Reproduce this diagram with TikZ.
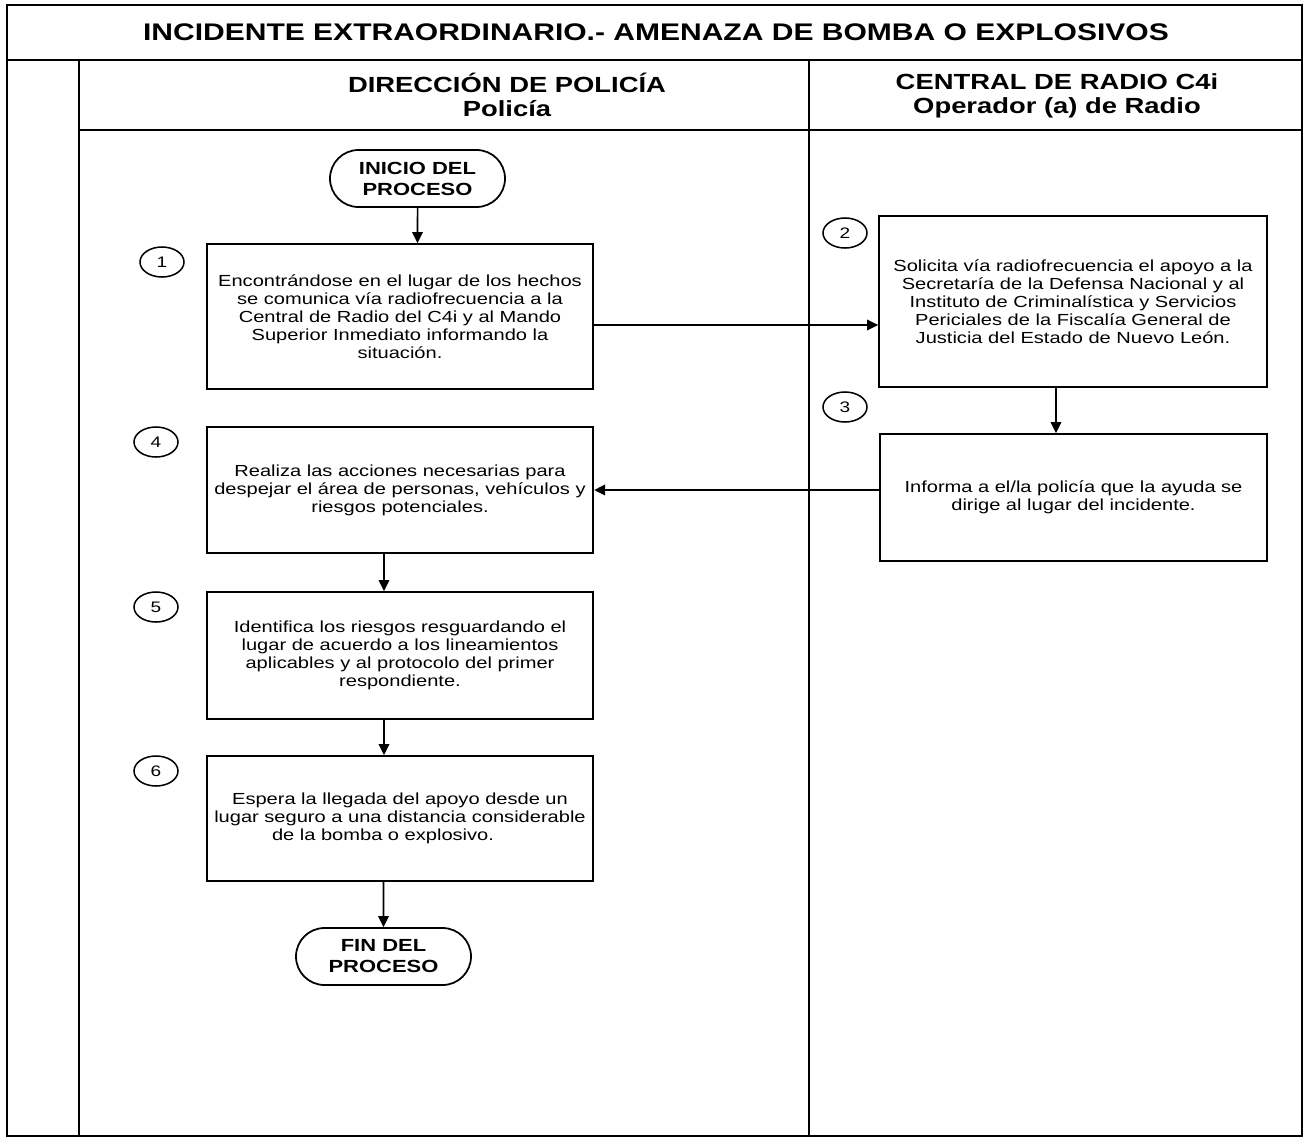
\documentclass[tikz,border=0pt]{standalone}
\usepackage{fontspec}
\setmainfont{Liberation Sans}[FakeStretch=1.25]
\usepackage{tikz}
\usetikzlibrary{shapes.geometric, shapes.misc, arrows.meta}

\tikzset{
	marco/.style={line width=1.6pt},
	paso/.style={draw, line width=1.5pt, align=center, inner sep=0pt, minimum width=11.6cm, font=\fontsize{13.7}{15.3}\selectfont},
	terminal/.style={draw, rounded rectangle, line width=1.5pt, align=center, minimum width=5.25cm, minimum height=1.71cm, inner sep=0pt, font=\fontsize{15}{17.9}\selectfont\bfseries},
	numero/.style={draw, ellipse, line width=1.3pt, minimum width=1.32cm, minimum height=0.9cm, inner sep=0pt, font=\fontsize{13}{15}\selectfont},
	encabezado/.style={align=center, font=\fontsize{18.7}{20.4}\selectfont\bfseries},
	flecha/.style={line width=1.3pt, -{Triangle[length=0.33cm, width=0.32cm]}}
}

\begin{document}
\begin{tikzpicture}[x=0.03cm, y=-0.03cm]
	\useasboundingbox (0, 0) rectangle (1304, 1138);
	% Frame and lanes:
	\draw[marco] (7, 5) rectangle (1302, 1136);
	\draw[marco] (7, 60) -- (1302, 60);
	\draw[marco] (79, 60) -- (79, 1136);
	\draw[marco] (809, 60) -- (809, 1136);
	\draw[marco] (79, 130) -- (1302, 130);
	\node[font=\fontsize{20.5}{24}\selectfont\bfseries] (titulo) at (656, 32){INCIDENTE EXTRAORDINARIO.- AMENAZA DE BOMBA O EXPLOSIVOS};
	\node[encabezado] (carril1) at (507, 95){DIRECCIÓN DE POLICÍA\\Policía};
	\node[encabezado] (carril2) at (1057, 96){CENTRAL DE RADIO C4i\\Operador (a) de Radio};
	% Steps:
	\node[terminal] (inicio) at (417.5, 178.5){INICIO DEL\\PROCESO};
	\node[paso, minimum height=4.35cm] (paso1) at (400, 316.5){Encontrándose en el lugar de los hechos\\se comunica vía radiofrecuencia a la\\Central de Radio del C4i y al Mando\\Superior Inmediato informando la\\situación.};
	\node[paso, minimum width=11.64cm, minimum height=5.13cm] (paso2) at (1073, 301.5){Solicita vía radiofrecuencia el apoyo a la\\Secretaría de la Defensa Nacional y al\\Instituto de Criminalística y Servicios\\Periciales de la Fiscalía General de\\Justicia del Estado de Nuevo León.};
	\node[paso, minimum height=3.81cm] (paso3) at (1073.5, 497.5){Informa a el/la policía que la ayuda se\\dirige al lugar del incidente.};
	\node[paso, minimum height=3.78cm] (paso4) at (400, 490){Realiza las acciones necesarias para\\despejar el área de personas, vehículos y\\riesgos potenciales.};
	\node[paso, minimum height=3.81cm] (paso5) at (400, 655.5){Identifica los riesgos resguardando el\\lugar de acuerdo a los lineamientos\\aplicables y al protocolo del primer\\respondiente.};
	\node[paso, minimum height=3.75cm] (paso6) at (400, 818.5){Espera la llegada del apoyo desde un\\lugar seguro a una distancia considerable\\de la bomba o explosivo.\hspace*{1.02cm}};
	\node[terminal] (fin) at (383.5, 956.5){FIN DEL\\PROCESO};
	\node[numero] (n1) at (162, 262){1};
	\node[numero] (n2) at (845, 233){2};
	\node[numero] (n3) at (845, 407){3};
	\node[numero] (n4) at (156, 442){4};
	\node[numero] (n5) at (156, 607){5};
	\node[numero] (n6) at (156, 771){6};
	% Connectors:
	\coordinate (s1) at ([yshift=-0.255cm]paso1.east);
	\coordinate (s2) at ([xshift=-0.51cm]paso2.south);
	\coordinate (s4) at ([xshift=-0.48cm]paso4.south);
	\coordinate (s5) at ([xshift=-0.48cm]paso5.south);
	\draw[flecha] (inicio) -- (inicio |- paso1.north);
	\draw[flecha] (s1) -- (s1 -| paso2.west);
	\draw[flecha] (s2) -- (s2 |- paso3.north);
	\draw[flecha] (paso4.east -| paso3.west) -- (paso4.east);
	\draw[flecha] (s4) -- (s4 |- paso5.north);
	\draw[flecha] (s5) -- (s5 |- paso6.north);
	\draw[flecha] (fin |- paso6.south) -- (fin);
\end{tikzpicture}
\end{document}
